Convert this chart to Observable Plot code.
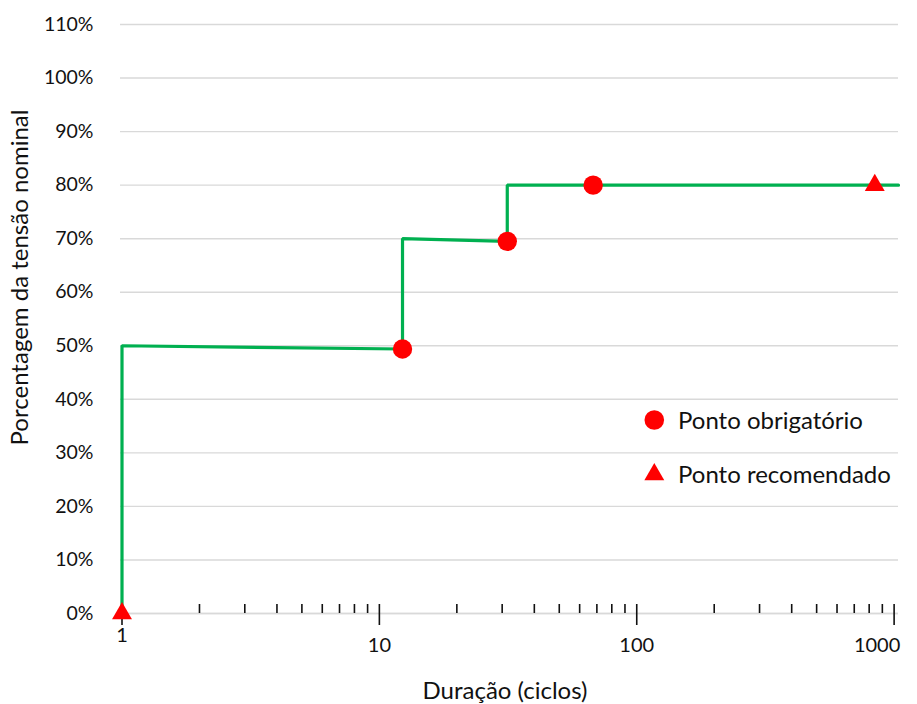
<!DOCTYPE html>
<html lang="pt">
<head>
<meta charset="utf-8">
<title>Porcentagem da tensão nominal × duração</title>
<script src="https://cdn.jsdelivr.net/npm/d3@7"></script>
<script src="https://cdn.jsdelivr.net/npm/@observablehq/plot@0.6"></script>
<style>
  html, body { margin: 0; padding: 0; background: #ffffff; }
  #chart { width: 917px; height: 704px; }
</style>
</head>
<body>
<div id="chart"></div>
<script>
// Curva de tolerância: tensão mínima (fração da nominal) por duração do afundamento (ciclos)
const stepDuration = [1, 1, 12.3, 12.3, 31.4, 31.4, 1040];
const stepVoltage  = [0, 0.50, 0.494, 0.70, 0.695, 0.80, 0.80];

// Pontos de ensaio obrigatórios
const requiredDuration = [12.3, 31.4, 67.7];
const requiredVoltage  = [0.494, 0.695, 0.80];

// Pontos de ensaio recomendados
const recommendedDuration = [1, 841];
const recommendedVoltage  = [0, 0.80];

// Marcações dos eixos
const yTicks = [0, 0.1, 0.2, 0.3, 0.4, 0.5, 0.6, 0.7, 0.8, 0.9, 1.0, 1.1];
const xMajorTicks = [1, 10, 100, 1000];
const xMinorTicks = [2, 3, 4, 5, 6, 7, 8, 9, 20, 30, 40, 50, 60, 70, 80, 90, 200, 300, 400, 500, 600, 700, 800, 900];

const xTitle = "Duração (ciclos)";
const yTitle = "Porcentagem da tensão nominal";
const legendLabels = ["Ponto obrigatório", "Ponto recomendado"];

const RED = "#ff0000";
const GREEN = "#00b050";
const INK = "#111111";
const FONT = "Lato, 'Open Sans', sans-serif";

const step = stepDuration.map((x, i) => ({x, y: stepVoltage[i]}));
const required = requiredDuration.map((x, i) => ({x, y: requiredVoltage[i]}));
const recommended = recommendedDuration.map((x, i) => ({x, y: recommendedVoltage[i]}));

const width = 917, height = 704;
const marginLeft = 120, marginRight = 19, marginTop = 24, marginBottom = 91;

const svg = Plot.plot({
  width, height,
  marginLeft, marginRight, marginTop, marginBottom,
  style: {fontFamily: FONT, fontSize: "19.5px", color: INK, background: "#ffffff"},
  x: {type: "log", domain: [1, 1040], range: [121.5, width - marginRight]},
  y: {domain: [0, 1.1]},
  marks: [
    // grade horizontal e linha de base
    Plot.gridY(yTicks, {stroke: "#d9d9d9", strokeOpacity: 1, strokeWidth: 1.4}),
    Plot.ruleY([0], {stroke: "#d9d9d9", strokeWidth: 1.4}),

    // eixo y: apenas rótulos percentuais
    Plot.axisY(yTicks, {
      tickSize: 0, tickPadding: 27, fontSize: 19.5, fill: INK, label: null,
      tickFormat: d => `${Math.round(d * 100)}%`
    }),

    // eixo x: marcas secundárias (acima da linha) e principais (cruzando)
    Plot.axisX(xMinorTicks, {tickSize: 9, dy: -9, stroke: INK, strokeWidth: 1.6, fill: "none", label: null}),
    Plot.axisX(xMajorTicks, {tickSize: 21, dy: -9, stroke: INK, strokeWidth: 1.6, fill: "none", label: null}),
    Plot.axisX(xMajorTicks.slice(0, 1), {tickSize: 0, tickPadding: 14, fontSize: 20, fill: INK, label: null, tickFormat: d => String(d)}),
    Plot.axisX(xMajorTicks.slice(1, 3), {tickSize: 0, tickPadding: 24, fontSize: 20, fill: INK, label: null, tickFormat: d => String(d)}),
    Plot.axisX(xMajorTicks.slice(3), {tickSize: 0, tickPadding: 24, dx: -17, fontSize: 20, fill: INK, label: null, tickFormat: d => String(d)}),

    // títulos dos eixos
    Plot.text([xTitle], {text: d => d, frameAnchor: "bottom", textAnchor: "middle", lineAnchor: "middle", dx: -4.5, dy: 78, fontSize: 24, fill: INK}),
    Plot.text([yTitle], {text: d => d, frameAnchor: "left", textAnchor: "middle", lineAnchor: "middle", rotate: -90, dx: -100, dy: -41.5, fontSize: 24, fill: INK}),

    // curva em degraus
    Plot.line(step, {x: "x", y: "y", stroke: GREEN, strokeWidth: 3.2, strokeLinejoin: "miter", curve: "linear"}),

    // pontos
    Plot.dot(required, {x: "x", y: "y", r: 9.7, fill: RED, stroke: "none", symbol: "circle"}),
    Plot.dot(recommended, {x: "x", y: "y", r: 7.4, fill: RED, stroke: "none", symbol: "triangle"})
  ]
});

// legenda dentro da área do gráfico
const legend = d3.select(svg).append("g")
  .attr("font-family", FONT)
  .attr("font-size", 24)
  .attr("text-anchor", "start")
  .attr("fill", INK);
const legendSymbols = [d3.symbolCircle, d3.symbolTriangle];
const legendRadii = [9.8, 7.4];
const rowY = [420, 474.5];
legendLabels.forEach((label, i) => {
  const r = legendRadii[i];
  legend.append("path")
    .attr("transform", `translate(654.3,${rowY[i]})`)
    .attr("d", d3.symbol(legendSymbols[i], Math.PI * r * r)())
    .attr("fill", RED);
  legend.append("text")
    .attr("x", 678)
    .attr("y", rowY[i])
    .attr("dy", "0.36em")
    .text(label);
});

document.getElementById("chart").appendChild(svg);
</script>
</body>
</html>
